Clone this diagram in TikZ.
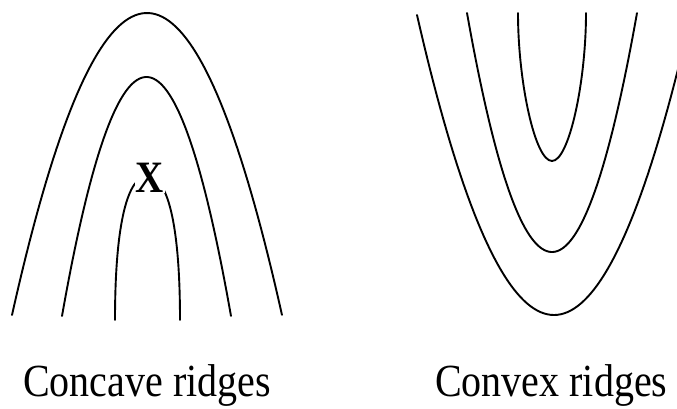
\documentclass[tikz,border=0pt]{standalone}
\usepackage{fontspec}
\setmainfont{Liberation Serif}
\begin{document}
\begin{tikzpicture}[x=1pt,y=-1pt,
  ridge/.style={line width=1.9pt, line cap=round},
  caption/.style={anchor=base west, inner sep=0pt, font=\fontsize{40}{48}\selectfont},
  mark x/.style={inner sep=0.5pt, fill=white, font=\fontsize{39}{44}\selectfont\bfseries}]
\useasboundingbox (0,0) rectangle (677,408);
\begin{scope}
\clip (0,0) rectangle (677,408);
% concave ridges (left)
\draw[ridge] plot[domain=-1:1, samples=80] ({147+135*\x}, {13+302*\x*\x});
\draw[ridge] plot[domain=-1:1, samples=80] ({146.5+84.5*\x}, {77+239*\x*\x});
\draw[ridge] (115,320) .. controls (115,222) and (128,176) .. (147.5,176)
                       .. controls (167,176) and (180,222) .. (180,320);
% convex ridges (right)
\draw[ridge] plot[domain=-1:0.93, samples=80] ({554+137*\x}, {315-300*\x*\x});
\draw[ridge] plot[domain=-1:1, samples=80] ({552+85*\x}, {252-239*\x*\x});
\draw[ridge] (518,13) .. controls (518,82) and (535,161) .. (552,161)
             .. controls (569,161) and (586,82) .. (586,13);
\end{scope}
\node[mark x] (x) at (150,178) {\scalebox{1}[1.15]{X}};
\node[caption] (concave) at (23,396) {\scalebox{1}[1.15]{Concave ridges}};
\node[caption] (convex) at (435,396) {\scalebox{1}[1.15]{Convex ridges}};
\end{tikzpicture}
\end{document}
